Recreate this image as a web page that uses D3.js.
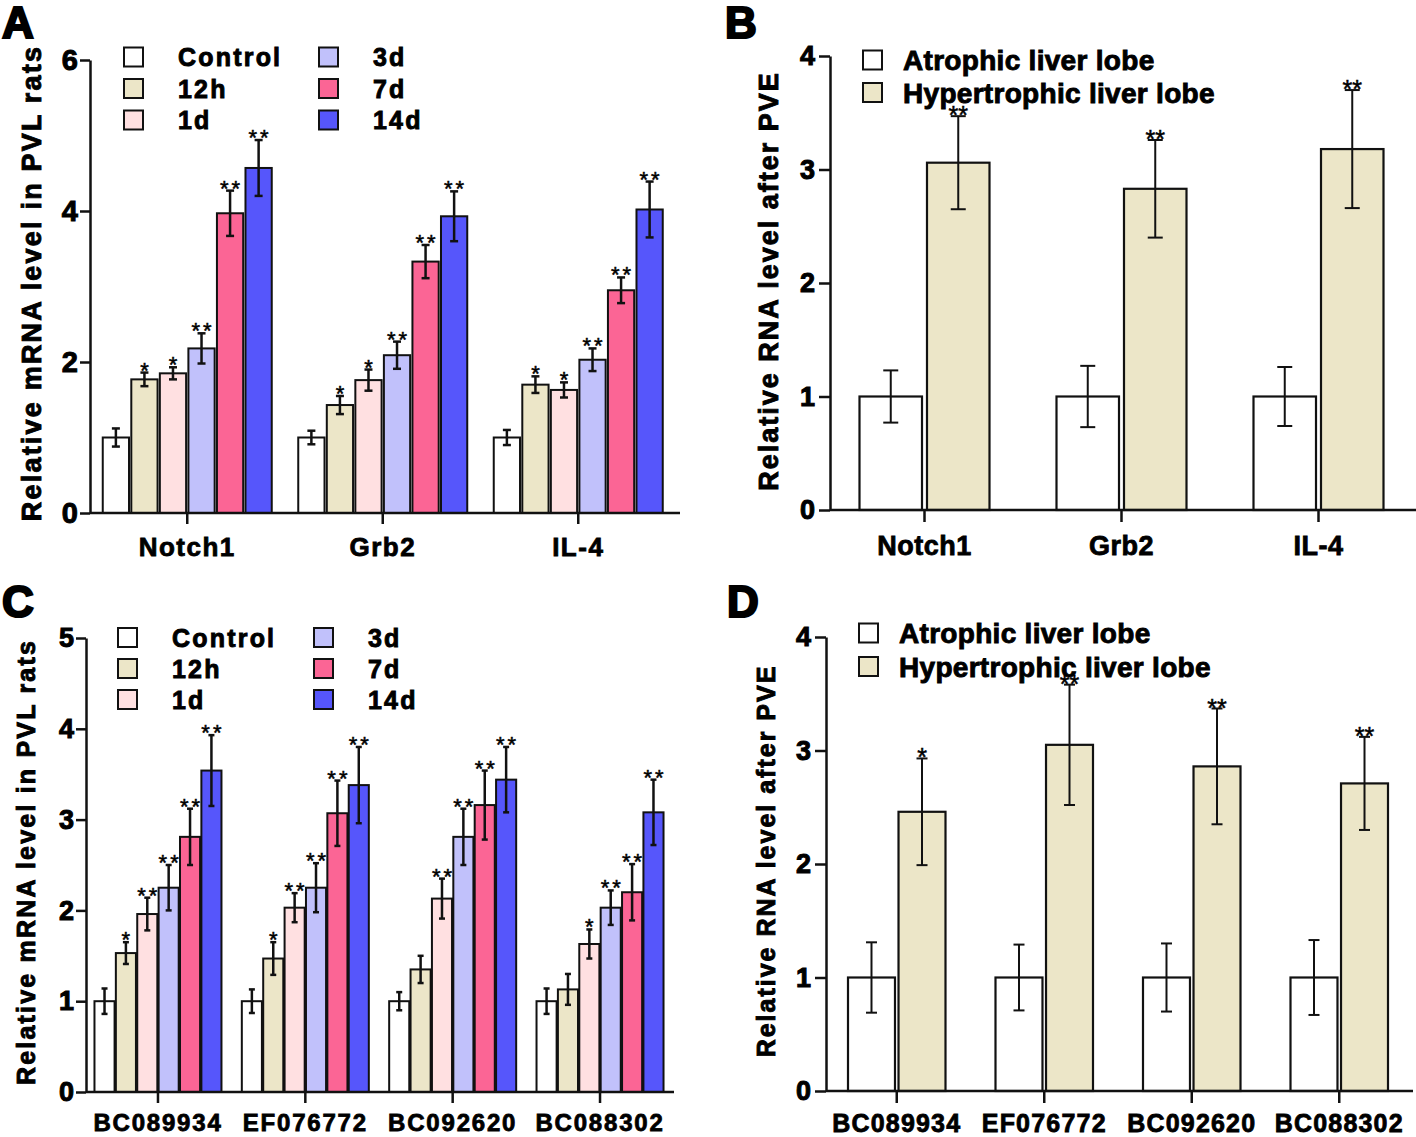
<!DOCTYPE html>
<html>
<head>
<meta charset="utf-8">
<script src="https://cdn.jsdelivr.net/npm/d3@7"></script>
<style>
  body { margin: 0; background: #fff; }
  text { font-family: "Liberation Sans", Arial, sans-serif; font-weight: bold; fill: #000; stroke: #000; stroke-width: 0.7px; }
</style>
</head>
<body>
<svg id="fig" width="1416" height="1137"></svg>
<script>
// groups
var timeGroups = ['Control', '12h', '1d', '3d', '7d', '14d'];
var timeColors = ['#ffffff', '#ece6c8', '#ffe0e1', '#c1c1fb', '#fb6595', '#5656fb'];
var lobeGroups = ['Atrophic liver lobe', 'Hypertrophic liver lobe'];
var lobeColors = ['#ffffff', '#ece6c8'];

// panel A
var aGenes = ['Notch1', 'Grb2', 'IL-4'];
var aMeans = [[1.00, 1.77, 1.85, 2.18, 3.97, 4.57],
              [1.00, 1.43, 1.76, 2.09, 3.33, 3.93],
              [1.00, 1.70, 1.63, 2.03, 2.95, 4.02]];
var aErrs  = [[0.12, 0.09, 0.08, 0.20, 0.30, 0.37],
              [0.09, 0.12, 0.14, 0.18, 0.22, 0.33],
              [0.10, 0.11, 0.10, 0.15, 0.17, 0.37]];
var aStars = [['', '*', '*', '**', '**', '**'],
              ['', '*', '*', '**', '**', '**'],
              ['', '*', '*', '**', '**', '**']];

// panel B
var bGenes = ['Notch1', 'Grb2', 'IL-4'];
var bMeans = [[1.00, 3.06], [1.00, 2.83], [1.00, 3.18]];
var bErrs  = [[0.23, 0.41], [0.27, 0.43], [0.26, 0.52]];
var bStars = [['', '**'], ['', '**'], ['', '**']];

// panel C
var cGenes = ['BC089934', 'EF076772', 'BC092620', 'BC088302'];
var cMeans = [[1.00, 1.53, 1.96, 2.25, 2.81, 3.54],
              [1.00, 1.47, 2.03, 2.25, 3.07, 3.38],
              [1.00, 1.35, 2.13, 2.81, 3.16, 3.44],
              [1.00, 1.13, 1.63, 2.03, 2.20, 3.08]];
var cErrs  = [[0.14, 0.12, 0.18, 0.25, 0.31, 0.39],
              [0.13, 0.18, 0.16, 0.27, 0.36, 0.42],
              [0.10, 0.15, 0.22, 0.31, 0.38, 0.36],
              [0.14, 0.17, 0.16, 0.19, 0.31, 0.36]];
var cStars = [['', '*', '**', '**', '**', '**'],
              ['', '*', '**', '**', '**', '**'],
              ['', '', '**', '**', '**', '**'],
              ['', '', '*', '**', '**', '**']];

// panel D
var dGenes = ['BC089934', 'EF076772', 'BC092620', 'BC088302'];
var dMeans = [[1.00, 2.46], [1.00, 3.05], [1.00, 2.86], [1.00, 2.71]];
var dErrs  = [[0.31, 0.47], [0.29, 0.53], [0.30, 0.51], [0.33, 0.41]];
var dStars = [['', '*'], ['', '**'], ['', '**'], ['', '**']];

var svg = d3.select('#fig');

function draw_panel(p) {
  var g = svg.append('g');

  var y = d3.scaleLinear().domain([0, p.yMax]).range([p.yZero, p.yTop]);
  var x = d3.scaleBand().domain(p.cats).range(p.xRange);
  var inner = d3.scaleBand().domain(p.groups)
    .range([-p.groupW / 2, p.groupW / 2])
    .paddingInner(p.barPad);

  var rows = [];
  p.cats.forEach(function(c, i) {
    p.groups.forEach(function(s, j) {
      rows.push({cat: c, grp: s, j: j, v: p.means[i][j], e: p.errs[i][j], star: p.stars[i][j]});
    });
  });
  function cx(d) { return x(d.cat) + x.bandwidth() / 2 + inner(d.grp) + inner.bandwidth() / 2; }

  // bars
  g.selectAll('.bar')
    .data(rows)
    .enter()
    .append('rect')
    .attr('class', 'bar')
    .attr('x', function(d) { return x(d.cat) + x.bandwidth() / 2 + inner(d.grp); })
    .attr('y', function(d) { return y(d.v); })
    .attr('width', inner.bandwidth())
    .attr('height', function(d) { return y(0) - y(d.v); })
    .style('fill', function(d) { return p.colors[d.j]; })
    .style('stroke', '#111')
    .style('stroke-width', p.barStroke + 'px');

  // error bars
  var eb = g.selectAll('.err')
    .data(rows)
    .enter()
    .append('g')
    .attr('class', 'err')
    .style('stroke', '#111')
    .style('stroke-width', p.errStroke + 'px');
  eb.append('line')
    .attr('x1', cx).attr('x2', cx)
    .attr('y1', function(d) { return y(d.v - d.e); })
    .attr('y2', function(d) { return y(d.v + d.e); });
  eb.append('line')
    .attr('x1', function(d) { return cx(d) - p.capW / 2; })
    .attr('x2', function(d) { return cx(d) + p.capW / 2; })
    .attr('y1', function(d) { return y(d.v + d.e); })
    .attr('y2', function(d) { return y(d.v + d.e); });
  eb.append('line')
    .attr('x1', function(d) { return cx(d) - p.capW / 2; })
    .attr('x2', function(d) { return cx(d) + p.capW / 2; })
    .attr('y1', function(d) { return y(d.v - d.e); })
    .attr('y2', function(d) { return y(d.v - d.e); });

  // significance stars
  g.selectAll('.star')
    .data(rows.filter(function(d) { return d.star; }))
    .enter()
    .append('text')
    .attr('class', 'star')
    .attr('x', function(d) { return cx(d) + p.starSpacing / 2; })
    .attr('y', function(d) { return y(d.v + d.e) + p.starDy; })
    .attr('text-anchor', 'middle')
    .style('font-size', p.starSize + 'px')
    .style('font-weight', 'normal')
    .style('stroke-width', '0.5px')
    .style('letter-spacing', p.starSpacing + 'px')
    .text(function(d) { return d.star; });

  // y axis
  var yAx = g.append('g')
    .attr('transform', 'translate(' + p.yAxisX + ',0)')
    .call(d3.axisLeft(y).tickValues(d3.range(0, p.yMax + 1, p.yStep))
      .tickFormat(d3.format('d')).tickSize(p.tickLen).tickSizeOuter(0).tickPadding(p.yPad));
  yAx.selectAll('path, line').style('stroke', '#111').style('stroke-width', '2.5px');
  yAx.selectAll('text').style('font-size', p.yFont + 'px').style('font-family', '"Liberation Sans", Arial, sans-serif')
    .style('font-weight', 'bold').style('fill', '#000').style('stroke', '#000').style('stroke-width', '1px');

  // x axis
  var xAx = g.append('g')
    .attr('transform', 'translate(0,' + p.yZero + ')')
    .call(d3.axisBottom(x).tickSize(p.tickLen + 1).tickSizeOuter(0).tickPadding(p.xPad));
  xAx.select('.domain').attr('d', 'M' + p.yAxisX + ',0H' + p.xEnd);
  xAx.selectAll('path, line').style('stroke', '#111').style('stroke-width', '2.5px');
  xAx.selectAll('text').style('font-size', p.xFont + 'px').style('font-family', '"Liberation Sans", Arial, sans-serif')
    .style('font-weight', 'bold').style('fill', '#000').style('stroke', '#000').style('stroke-width', '0.8px')
    .style('letter-spacing', p.xSpacing + 'px');

  // y title
  g.append('text')
    .attr('transform', 'translate(' + p.titleX + ',' + p.titleY + ') rotate(-90)')
    .attr('text-anchor', 'middle')
    .style('font-size', p.titleSize + 'px')
    .style('stroke-width', '0.9px')
    .style('letter-spacing', p.titleSpacing + 'px')
    .text(p.title);

  // legend
  var leg = g.selectAll('.leg')
    .data(p.groups)
    .enter()
    .append('g')
    .attr('class', 'leg')
    .attr('transform', function(d, i) {
      var col = Math.floor(i / p.legRows), row = i % p.legRows;
      return 'translate(' + (p.legX + col * p.legColW) + ',' + (p.legY + row * p.legRowH) + ')';
    });
  leg.append('rect')
    .attr('x', 0).attr('y', -p.legBox / 2)
    .attr('width', p.legBox).attr('height', p.legBox)
    .style('fill', function(d, i) { return p.colors[i]; })
    .style('stroke', '#111').style('stroke-width', '2px');
  leg.append('text')
    .attr('x', p.legTextDx)
    .attr('y', p.legFont * 0.36)
    .style('font-size', p.legFont + 'px')
    .style('stroke-width', '0.9px')
    .style('letter-spacing', p.legSpacing + 'px')
    .text(function(d) { return d; });

  // panel letter
  g.append('text')
    .attr('x', p.letterX).attr('y', p.letterY)
    .style('font-size', '44px')
    .style('stroke-width', '2.2px')
    .text(p.letter);
}

var timeStyle = {groups: timeGroups, colors: timeColors, barPad: 0.08, barStroke: 2, errStroke: 2.5,
  capW: 8, starSize: 22, starSpacing: 3, starDy: 5, tickLen: 10, yPad: 2, xPad: 14,
  legRows: 3, legBox: 19, legTextDx: 54, legSpacing: 2.2, titleSpacing: 2.2, xSpacing: 1.5};
var lobeStyle = {groups: lobeGroups, colors: lobeColors, barStroke: 2.2, errStroke: 2,
  starSize: 25, starSpacing: 0, starDy: 8, tickLen: 11, yPad: 4, xPad: 14,
  legRows: 2, legBox: 19, legTextDx: 40, legSpacing: 0.3, titleSpacing: 2, xSpacing: 0.5, legColW: 0};

draw_panel(Object.assign({}, timeStyle, {
  letter: 'A', letterX: 2, letterY: 38,
  cats: aGenes, means: aMeans, errs: aErrs, stars: aStars,
  yMax: 6, yStep: 2, yZero: 513, yTop: 60, yAxisX: 90, xRange: [89.5, 676], xEnd: 680,
  groupW: 169, yFont: 29, xFont: 26,
  title: 'Relative mRNA level in PVL rats', titleX: 41, titleY: 283, titleSize: 27,
  legX: 124, legY: 57, legRowH: 31.5, legColW: 195, legFont: 25
}));

draw_panel(Object.assign({}, lobeStyle, {
  letter: 'B', letterX: 725, letterY: 38,
  cats: bGenes, means: bMeans, errs: bErrs, stars: bStars,
  yMax: 4, yStep: 1, yZero: 510, yTop: 56, yAxisX: 830, xRange: [826, 1417], xEnd: 1416,
  groupW: 130, barPad: 0.074, capW: 15, yFont: 27, xFont: 27,
  title: 'Relative RNA level after PVE', titleX: 778, titleY: 281, titleSize: 27,
  legX: 863, legY: 60, legRowH: 32.5, legFont: 28
}));

draw_panel(Object.assign({}, timeStyle, {
  letter: 'C', letterX: 2, letterY: 617,
  cats: cGenes, means: cMeans, errs: cErrs, stars: cStars,
  yMax: 5, yStep: 1, yZero: 1092, yTop: 638, yAxisX: 86, xRange: [84.3, 673.7], xEnd: 674,
  groupW: 127, barPad: 0.06, capW: 6, yFont: 27, xFont: 24, xSpacing: 1.8, xPad: 11,
  title: 'Relative mRNA level in PVL rats', titleX: 35, titleY: 862, titleSize: 25,
  legX: 118, legY: 637.5, legRowH: 31, legColW: 196, legFont: 25
}));

draw_panel(Object.assign({}, lobeStyle, {
  letter: 'D', letterX: 727, letterY: 617,
  cats: dGenes, means: dMeans, errs: dErrs, stars: dStars,
  yMax: 4, yStep: 1, yZero: 1091, yTop: 637, yAxisX: 826, xRange: [823, 1413], xEnd: 1413,
  groupW: 97.5, barPad: 0.07, capW: 11, yFont: 27, xFont: 25, xSpacing: 1.2, xPad: 11,
  title: 'Relative RNA level after PVE', titleX: 775, titleY: 861, titleSize: 25,
  legX: 859, legY: 633, legRowH: 33.5, legFont: 28
}));
</script>
</body>
</html>
